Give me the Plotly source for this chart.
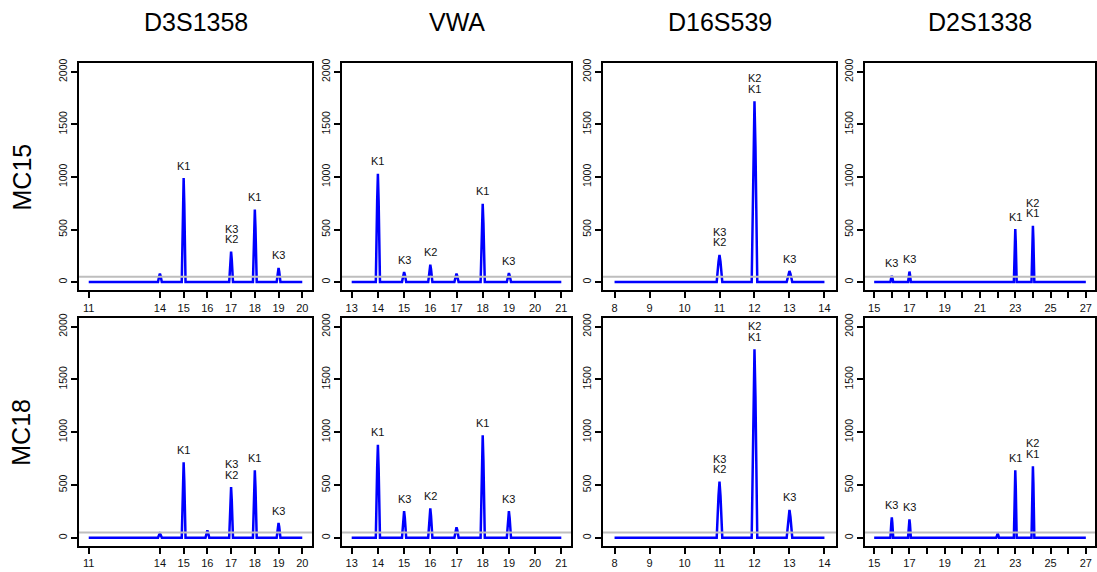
import plotly.graph_objects as go

# ---------------- data ----------------
loci = ["D3S1358", "VWA", "D16S539", "D2S1338"]
samples = ["MC15", "MC18"]

# allele axis ticks per locus
ticks_D3S1358 = [11, 14, 15, 16, 17, 18, 19, 20]
ticks_VWA = [13, 14, 15, 16, 17, 18, 19, 20, 21]
ticks_D16S539 = [8, 9, 10, 11, 12, 13, 14]
ticks_D2S1338 = [15, 16, 17, 18, 19, 20, 21, 22, 23, 24, 25, 26, 27]
ticklabels_D2S1338 = ["15", "", "17", "", "19", "", "21", "", "23", "", "25", "", "27"]

# MC15 peaks
mc15_D3S1358_alleles = [14, 15, 17, 18, 19]
mc15_D3S1358_heights = [80, 990, 290, 690, 135]
mc15_D3S1358_labels = ["", "K1", "K3\nK2", "K1", "K3"]

mc15_VWA_alleles = [14, 15, 16, 17, 18, 19]
mc15_VWA_heights = [1030, 95, 165, 80, 745, 85]
mc15_VWA_labels = ["K1", "K3", "K2", "", "K1", "K3"]

mc15_D16S539_alleles = [11, 12, 13]
mc15_D16S539_heights = [258, 1720, 105]
mc15_D16S539_labels = ["K3\nK2", "K2\nK1", "K3"]

mc15_D2S1338_alleles = [16, 17, 23, 24]
mc15_D2S1338_heights = [60, 100, 505, 535]
mc15_D2S1338_labels = ["K3", "K3", "K1", "K2\nK1"]

# MC18 peaks
mc18_D3S1358_alleles = [14, 15, 16, 17, 18, 19]
mc18_D3S1358_heights = [40, 715, 70, 480, 640, 140]
mc18_D3S1358_labels = ["", "K1", "", "K3\nK2", "K1", "K3"]

mc18_VWA_alleles = [14, 15, 16, 17, 18, 19]
mc18_VWA_heights = [880, 253, 278, 100, 970, 253]
mc18_VWA_labels = ["K1", "K3", "K2", "", "K1", "K3"]

mc18_D16S539_alleles = [11, 12, 13]
mc18_D16S539_heights = [533, 1785, 265]
mc18_D16S539_labels = ["K3\nK2", "K2\nK1", "K3"]

mc18_D2S1338_alleles = [16, 17, 22, 23, 24]
mc18_D2S1338_heights = [193, 175, 40, 640, 678]
mc18_D2S1338_labels = ["K3", "K3", "", "K1", "K2\nK1"]

threshold = 50
y_ticks = [0, 500, 1000, 1500, 2000]

# ---------------- layout helpers ----------------
W, H = 1097, 572
FONT = "Liberation Sans, Arial, Helvetica, sans-serif"
BLUE = "#0000FF"
GRAY = "#BEBEBE"

col_px = [(79, 312), (342, 571), (603, 836), (865, 1095)]
row_px = [(59, 288), (316, 546)]
x_ranges = [(10.59, 20.41), (12.63, 21.37), (7.67, 14.33), (14.48, 27.52)]
y_range = (-80, 2080)

locus_ticks = [ticks_D3S1358, ticks_VWA, ticks_D16S539, ticks_D2S1338]
locus_ticktext = [None, None, None, ticklabels_D2S1338]

peak_data = {
    (0, 0): (mc15_D3S1358_alleles, mc15_D3S1358_heights, mc15_D3S1358_labels),
    (0, 1): (mc15_VWA_alleles, mc15_VWA_heights, mc15_VWA_labels),
    (0, 2): (mc15_D16S539_alleles, mc15_D16S539_heights, mc15_D16S539_labels),
    (0, 3): (mc15_D2S1338_alleles, mc15_D2S1338_heights, mc15_D2S1338_labels),
    (1, 0): (mc18_D3S1358_alleles, mc18_D3S1358_heights, mc18_D3S1358_labels),
    (1, 1): (mc18_VWA_alleles, mc18_VWA_heights, mc18_VWA_labels),
    (1, 2): (mc18_D16S539_alleles, mc18_D16S539_heights, mc18_D16S539_labels),
    (1, 3): (mc18_D2S1338_alleles, mc18_D2S1338_heights, mc18_D2S1338_labels),
}

HALF_WIDTH = 0.08  # peak half width in allele units


def trace_xy(alleles, heights, xmin, xmax):
    xs, ys = [xmin], [0]
    for a, h in zip(alleles, heights):
        xs += [a - HALF_WIDTH, a - HALF_WIDTH * 0.35, a, a + HALF_WIDTH * 0.35, a + HALF_WIDTH]
        ys += [0, h * 0.75, h, h * 0.75, 0]
    xs.append(xmax)
    ys.append(0)
    return xs, ys


fig = go.Figure()
layout = dict(
    width=W, height=H,
    margin=dict(l=0, r=0, t=0, b=0),
    paper_bgcolor="white", plot_bgcolor="white",
    showlegend=False,
    font=dict(family=FONT, color="black"),
)
annotations = []
shapes = []

for r in range(2):
    for c in range(4):
        idx = r * 4 + c + 1
        xa = "x" if idx == 1 else f"x{idx}"
        ya = "y" if idx == 1 else f"y{idx}"
        xkey = "xaxis" if idx == 1 else f"xaxis{idx}"
        ykey = "yaxis" if idx == 1 else f"yaxis{idx}"
        x0, x1 = col_px[c]
        y0, y1 = row_px[r]
        ticks = locus_ticks[c]
        tt = locus_ticktext[c]
        xaxis = dict(
            domain=[x0 / W, x1 / W], range=list(x_ranges[c]), anchor=ya,
            tickvals=ticks, ticktext=tt if tt else [str(t) for t in ticks],
            ticks="outside", ticklen=6, tickwidth=1.5, tickcolor="black",
            showline=True, linewidth=2, linecolor="black", mirror=True,
            showgrid=False, zeroline=False,
            tickfont=dict(size=11, family=FONT, color="#111"),
        )
        yaxis = dict(
            domain=[1 - y1 / H, 1 - y0 / H], range=list(y_range), anchor=xa,
            tickvals=y_ticks, ticks="outside", ticklen=6, tickwidth=1.5, tickcolor="black",
            tickangle=-90,
            showline=True, linewidth=2, linecolor="black", mirror=True,
            showgrid=False, zeroline=False,
            tickfont=dict(size=10.5, family=FONT, color="#111"),
        )
        layout[xkey] = xaxis
        layout[ykey] = yaxis

        alleles, heights, labels = peak_data[(r, c)]
        xs, ys = trace_xy(alleles, heights, ticks[0], ticks[-1])
        fig.add_trace(go.Scatter(
            x=xs, y=ys, xaxis=xa, yaxis=ya, mode="lines",
            line=dict(color=BLUE, width=2.5), hoverinfo="skip",
        ))

        shapes.append(dict(
            type="line", xref=f"{xa} domain", yref=ya, x0=0, x1=1,
            y0=threshold, y1=threshold, line=dict(color=GRAY, width=2), layer="above",
        ))

        for a, h, lab in zip(alleles, heights, labels):
            if not lab:
                continue
            lines = lab.split("\n")[::-1]  # bottom line first
            for k, txt in enumerate(lines):
                annotations.append(dict(
                    x=a, y=h, xref=xa, yref=ya, text=txt, showarrow=False,
                    xanchor="center", yanchor="middle", yshift=12.5 + 10.4 * k,
                    font=dict(size=11, family=FONT, color="#111"),
                ))

# column titles
for c, name in enumerate(loci):
    cx = (col_px[c][0] + col_px[c][1]) / 2
    annotations.append(dict(
        x=cx / W, y=1 - 17.5 / H, xref="paper", yref="paper", text=name,
        showarrow=False, xanchor="center", yanchor="middle",
        font=dict(size=25, family=FONT, color="black"),
    ))

# row labels
for r, name in enumerate(samples):
    cy = (row_px[r][0] + row_px[r][1]) / 2
    annotations.append(dict(
        x=21.5 / W, y=1 - cy / H, xref="paper", yref="paper", text=name,
        showarrow=False, xanchor="center", yanchor="middle", textangle=-90,
        font=dict(size=25, family=FONT, color="black"),
    ))

layout["annotations"] = annotations
layout["shapes"] = shapes
fig.update_layout(**layout)
fig.write_html(
    "out.html",
    config={"displayModeBar": False},
    post_script="document.body.style.margin='0';document.body.style.overflow='hidden';",
)
